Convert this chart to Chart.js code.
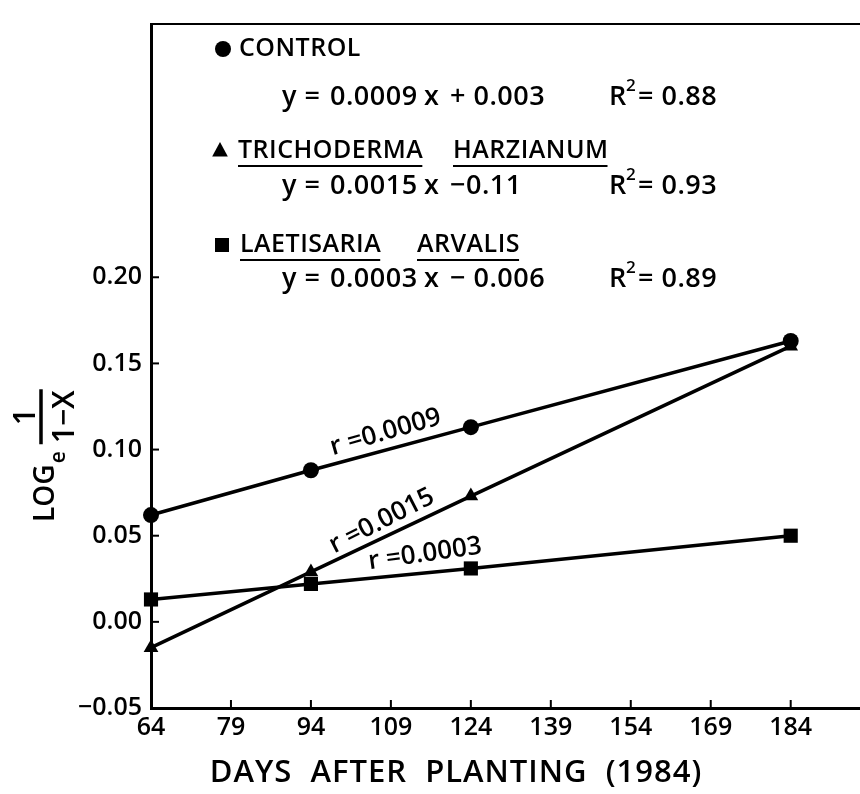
<!DOCTYPE html>
<html><head><meta charset="utf-8">
<script src="https://cdn.jsdelivr.net/npm/chart.js@4/dist/chart.umd.min.js"></script>
<style>html,body{margin:0;padding:0;background:#fff}#wrap{width:860px;height:794px}</style>
</head><body><div id="wrap"><canvas id="c" width="860" height="794"></canvas></div>
<script>
// ---- data ----
const days = [64, 94, 124, 184];
const control = [0.062, 0.088, 0.113, 0.163];
const trichoderma = [-0.015, 0.029, 0.073, 0.160];
const laetisaria = [0.013, 0.022, 0.031, 0.050];
const xTicks = [64, 79, 94, 109, 124, 139, 154, 169, 184];
const yTicks = [-0.05, 0.00, 0.05, 0.10, 0.15, 0.20];
const yTickLabels = ['\u22120.05', '0.00', '0.05', '0.10', '0.15', '0.20'];
const seriesNames = [['CONTROL'], ['TRICHODERMA', 'HARZIANUM'], ['LAETISARIA', 'ARVALIS']];
const eqSlopes = ['0.0009', '0.0015', '0.0003'];
const eqIntercepts = ['+ 0.003', '\u22120.11', '\u2212 0.006'];
const rSquared = ['0.88', '0.93', '0.89'];
const slopeLabels = ['r =0.0009', 'r =0.0015', 'r =0.0003'];
const xTitle = 'DAYS  AFTER  PLANTING  (1984)';

const FONT = "'Open Sans', sans-serif";
const W = '600 ';
const toPts = arr => days.map((d, i) => ({x: d, y: arr[i]}));
const styles = ['circle', 'triangle', 'rect'];
const radii = [8, 8.5, 10];

const ds = [control, trichoderma, laetisaria].map((arr, i) => ({
  label: seriesNames[i].join(' '),
  data: toPts(arr),
  borderColor: '#000', backgroundColor: '#000',
  borderWidth: 3.5, pointStyle: styles[i], pointRadius: radii[i],
  pointBorderWidth: 0, pointHoverRadius: radii[i],
  showLine: true, clip: false, tension: 0
}));

function drawMarker(ctx, style, x, y, r) {
  ctx.save(); ctx.fillStyle = '#000'; ctx.beginPath();
  if (style === 'circle') { ctx.arc(x, y, r, 0, Math.PI * 2); }
  else if (style === 'triangle') {
    ctx.moveTo(x, y - r); ctx.lineTo(x + r * 0.87, y + r * 0.6); ctx.lineTo(x - r * 0.87, y + r * 0.6); ctx.closePath();
  } else { ctx.rect(x - r, y - r, 2 * r, 2 * r); }
  ctx.fill(); ctx.restore();
}

const decor = {
  id: 'decor',
  afterDraw(chart) {
    const ctx = chart.ctx, a = chart.chartArea;
    const xs = chart.scales.x, ys = chart.scales.y;
    ctx.save();
    ctx.strokeStyle = '#000'; ctx.fillStyle = '#000';
    // top frame line
    ctx.lineWidth = 2;
    ctx.beginPath(); ctx.moveTo(a.left, a.top); ctx.lineTo(a.right, a.top); ctx.stroke();
    // inward ticks
    ctx.lineWidth = 2;
    yTicks.forEach(v => { const y = ys.getPixelForValue(v); ctx.beginPath(); ctx.moveTo(a.left, y); ctx.lineTo(a.left + 8, y); ctx.stroke(); });
    xTicks.forEach(v => { const x = xs.getPixelForValue(v); ctx.beginPath(); ctx.moveTo(x, a.bottom); ctx.lineTo(x, a.bottom - 8); ctx.stroke(); });

    // legend block
    const L = a.left, T = a.top;
    ctx.textBaseline = 'middle'; ctx.textAlign = 'left';
    ctx.letterSpacing = '0.5px';
    const rowY = [T + 25, T + 127, T + 221];
    const eqY = [T + 73, T + 162, T + 255];
    const mk = [[72, 'circle', 8], [69, 'triangle', 9], [71, 'rect', 7]];
    const nameX = [[88], [87, 302], [89, 266]];
    for (let i = 0; i < 3; i++) {
      drawMarker(ctx, mk[i][1], L + mk[i][0], rowY[i], mk[i][2]);
      ctx.font = W + '25px ' + FONT;
      seriesNames[i].forEach((w, j) => {
        const x = L + nameX[i][j];
        ctx.fillText(w, x, rowY[i]);
        if (i > 0) {
          const wd = ctx.measureText(w).width;
          ctx.lineWidth = 2; ctx.beginPath(); ctx.moveTo(x, rowY[i] + 15); ctx.lineTo(x + wd - 1, rowY[i] + 15); ctx.stroke();
        }
      });
      ctx.font = W + '27px ' + FONT;
      ctx.fillText('y =', L + 131, eqY[i]);
      ctx.fillText(eqSlopes[i], L + 179, eqY[i]);
      ctx.fillText('x', L + 273, eqY[i]);
      ctx.fillText(eqIntercepts[i], L + 299, eqY[i]);
      ctx.fillText('R', L + 458, eqY[i]);
      ctx.font = W + '17px ' + FONT;
      ctx.fillText('2', L + 475, eqY[i] - 11);
      ctx.font = W + '27px ' + FONT;
      ctx.fillText('= ' + rSquared[i], L + 487, eqY[i]);
    }

    // slope labels along lines
    const ann = [[108.0, 0.110, -16], [107.3, 0.0585, -27], [115.4, 0.0394, -8]];
    ctx.font = W + '26px ' + FONT; ctx.textAlign = 'center'; ctx.letterSpacing = '0px';
    ann.forEach((p, i) => {
      ctx.save();
      ctx.translate(xs.getPixelForValue(p[0]), ys.getPixelForValue(p[1]));
      ctx.rotate(p[2] * Math.PI / 180);
      ctx.fillText(slopeLabels[i], 0, 0);
      ctx.restore();
    });

    // x-axis title
    ctx.letterSpacing = '1px';
    ctx.font = W + '31px ' + FONT; ctx.textAlign = 'center'; ctx.textBaseline = 'alphabetic';
    ctx.fillText(xTitle, L + 305, a.bottom + 74);

    // y-axis title (rotated)
    ctx.letterSpacing = '0px';
    ctx.save();
    ctx.rotate(-Math.PI / 2);
    ctx.textAlign = 'left'; ctx.textBaseline = 'alphabetic';
    ctx.font = W + '28px ' + FONT;
    const yStart = ys.getPixelForValue(0.058);
    ctx.fillText('LOG', -yStart, 54);
    const wLog = ctx.measureText('LOG').width;
    ctx.font = W + '21px ' + FONT;
    ctx.fillText('e', -yStart + wLog + 1, 65);
    const wE = ctx.measureText('e').width;
    const fx = -yStart + wLog + wE + 8;
    ctx.font = W + '30px ' + FONT;
    const wDen = ctx.measureText('1\u2212X').width;
    ctx.lineWidth = 3.5;
    ctx.beginPath(); ctx.moveTo(fx, 41); ctx.lineTo(fx + wDen + 2, 41); ctx.stroke();
    ctx.textAlign = 'center';
    ctx.fillText('1\u2212X', fx + wDen / 2 + 1, 74);
    ctx.fillText('1', fx + wDen / 2 + 1, 35);
    ctx.restore();

    ctx.restore();
  }
};

new Chart(document.getElementById('c'), {
  type: 'scatter',
  data: { datasets: ds },
  options: {
    responsive: false, animation: false, devicePixelRatio: 1,
    layout: { padding: { top: 15, left: 0, right: 0, bottom: 0 }, autoPadding: false },
    plugins: { legend: { display: false }, tooltip: { enabled: false } },
    scales: {
      x: {
        type: 'linear', min: 64, max: 197,
        afterBuildTicks: s => { s.ticks = xTicks.map(v => ({value: v})); },
        afterFit: s => { s.height = 86; },
        grid: { display: false, drawTicks: false },
        border: { display: true, color: '#000', width: 3 },
        ticks: { color: '#000', padding: 5, maxRotation: 0, autoSkip: false,
          font: { family: FONT, size: 25, weight: '600' }, callback: v => String(v) }
      },
      y: {
        type: 'linear', min: -0.05, max: 0.347,
        afterBuildTicks: s => { s.ticks = yTicks.map(v => ({value: v})); },
        afterFit: s => { s.width = 151; },
        grid: { display: false, drawTicks: false },
        border: { display: true, color: '#000', width: 3 },
        ticks: { color: '#000', padding: 9, autoSkip: false,
          font: { family: FONT, size: 25, weight: '600' },
          callback: v => { const i = yTicks.findIndex(t => Math.abs(t - v) < 1e-6); return i >= 0 ? yTickLabels[i] : ''; } }
      }
    }
  },
  plugins: [decor]
});
</script></body></html>
